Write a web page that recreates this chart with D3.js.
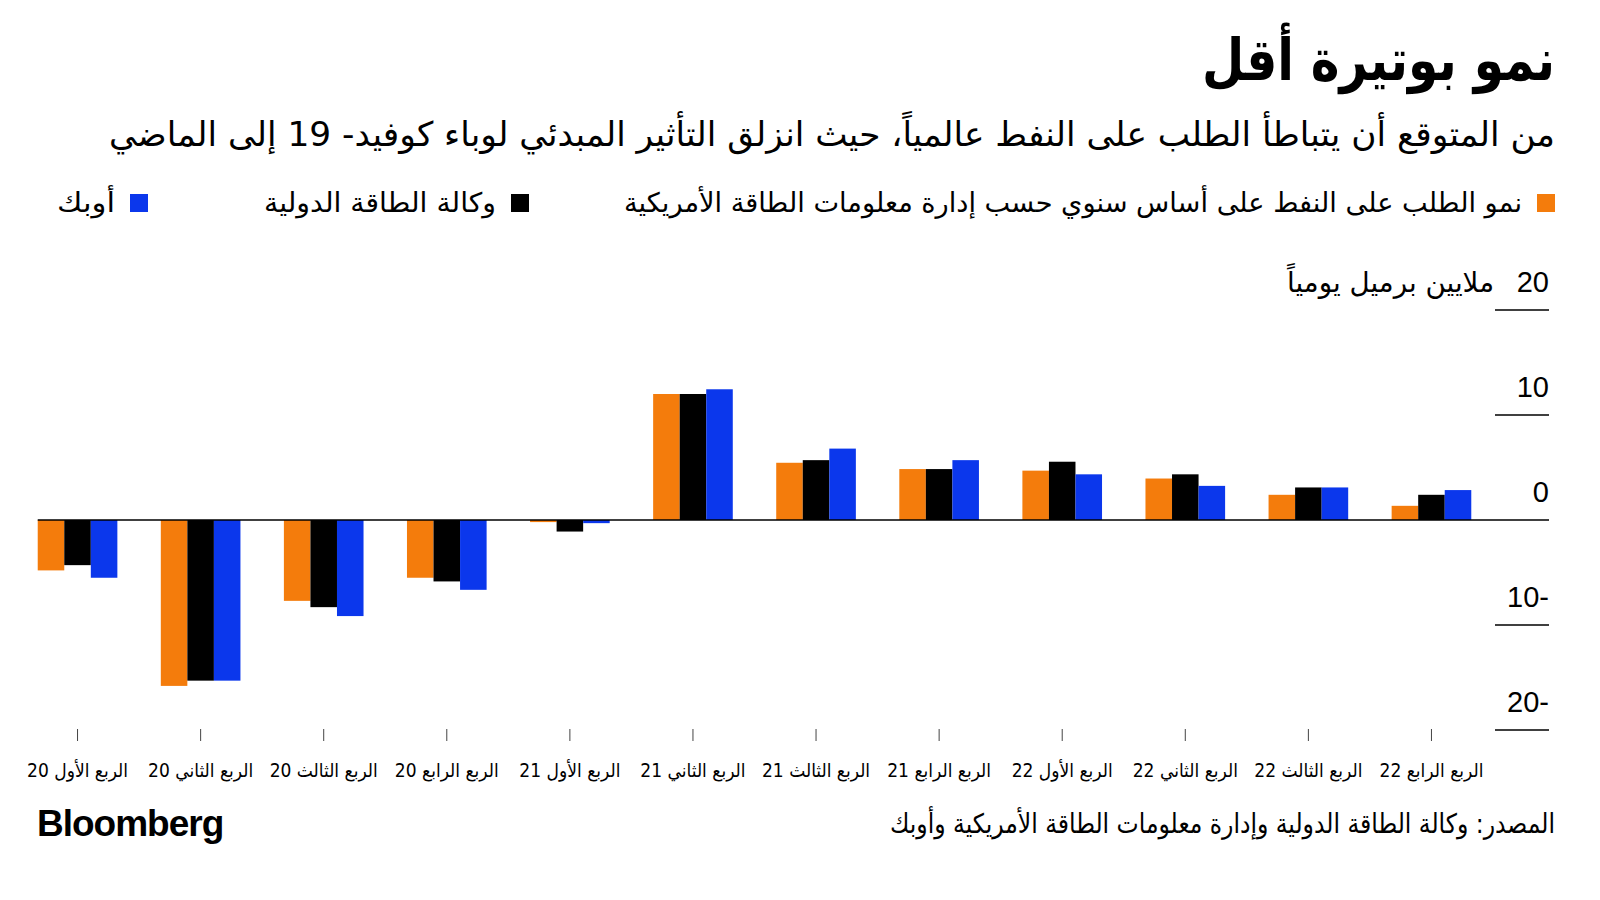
<!DOCTYPE html>
<html><head><meta charset="utf-8">
<script src="https://cdn.jsdelivr.net/npm/d3@7"></script>
<style>
html,body{margin:0;padding:0;background:#fff;}
svg{display:block;}
.ar{font-family:"DejaVu Sans Condensed","DejaVu Sans",sans-serif;font-stretch:condensed;}
.num{font-family:"Liberation Sans",Arial,sans-serif;}
</style></head>
<body>
<svg id="chart" width="1600" height="900"></svg>
<script>
const categories = ["الربع الأول 20","الربع الثاني 20","الربع الثالث 20","الربع الرابع 20","الربع الأول 21","الربع الثاني 21","الربع الثالث 21","الربع الرابع 21","الربع الأول 22","الربع الثاني 22","الربع الثالث 22","الربع الرابع 22"];
const eiaValues  = [-4.8,-15.8,-7.7,-5.5,-0.2,12.0,5.45,4.85,4.7,3.95,2.4,1.35];
const ieaValues  = [-4.3,-15.3,-8.3,-5.85,-1.1,12.0,5.7,4.85,5.55,4.35,3.1,2.4];
const opecValues = [-5.5,-15.3,-9.15,-6.65,-0.3,12.45,6.8,5.7,4.35,3.25,3.1,2.85];
const seriesNames = ["نمو الطلب على النفط على أساس سنوي حسب إدارة معلومات الطاقة الأمريكية","وكالة الطاقة الدولية","أوبك"];
const seriesColors = ["#f47c0c","#000000","#0b37ec"];
const yTicks = [20,10,0,-10,-20];
const title = "نمو بوتيرة أقل";
const subtitle = "من المتوقع أن يتباطأ الطلب على النفط عالمياً، حيث انزلق التأثير المبدئي لوباء كوفيد- 19 إلى الماضي";
const unitLabel = "ملايين برميل يومياً";
const source = "المصدر: وكالة الطاقة الدولية وإدارة معلومات الطاقة الأمريكية وأوبك";

const svg = d3.select("#chart");
const seriesData = [eiaValues, ieaValues, opecValues];
const keys = [0,1,2];

const x = d3.scaleBand().domain(categories).range([16,1493]).paddingInner(0.353).paddingOuter(0.1765);
const xs = d3.scaleBand().domain(keys).range([0, x.bandwidth()]);
const y = d3.scaleLinear().domain([-20,20]).range([730,310]);

function arText(sel, xPos, yPos, size, str, len){
  const t = sel.append("text").attr("class","ar").attr("x",xPos).attr("y",yPos).attr("direction","rtl").attr("text-anchor","start")
    .attr("font-size",size).text(str);
  if(len) t.attr("textLength",len).attr("lengthAdjust","spacingAndGlyphs");
  return t;
}

// Title etc.
arText(svg,1555,80,58,title,353).attr("font-weight","bold");
arText(svg,1555,146,34,subtitle,1446);

// Legend
const legendRight = [1555,529,148];
const legendLen = [898,232,58];
const legend = svg.append("g");
keys.forEach(k=>{
  legend.append("rect").attr("x",legendRight[k]-18).attr("y",194).attr("width",18).attr("height",18).attr("fill",seriesColors[k]);
  arText(legend,legendRight[k]-33,212,27,seriesNames[k],legendLen[k]);
});

// y gridlines & labels
const yg = svg.append("g");
yTicks.forEach(t=>{
  if(t!==0) yg.append("line").attr("x1",1495).attr("x2",1549).attr("y1",y(t)).attr("y2",y(t)).attr("stroke","#000").attr("stroke-width",1.5);
  yg.append("text").attr("class","num").attr("x",1549).attr("y",y(t)-18).attr("direction","rtl").attr("text-anchor","start")
    .attr("font-size",29).text(String(t));
});
arText(svg,1494,292,28,unitLabel,207);

// bars
const groups = svg.append("g").selectAll("g").data(categories).join("g")
  .attr("transform",d=>`translate(${x(d)},0)`);
groups.selectAll("rect").data((d,i)=>keys.map(k=>({k,v:seriesData[k][i]}))).join("rect")
  .attr("x",d=>xs(d.k)).attr("width",xs.bandwidth())
  .attr("y",d=>Math.min(y(d.v),y(0))).attr("height",d=>Math.abs(y(d.v)-y(0)))
  .attr("fill",d=>seriesColors[d.k]);

// zero line
svg.append("line").attr("x1",x(categories[0])).attr("x2",1549).attr("y1",y(0)).attr("y2",y(0)).attr("stroke","#000").attr("stroke-width",1.5);

// x axis
const xAxis = d3.axisBottom(x).tickSize(12).tickSizeOuter(0).tickPadding(23);
const ax = svg.append("g").attr("transform","translate(0,729)").call(xAxis);
ax.select(".domain").remove();
ax.selectAll(".tick line").attr("stroke","#444").attr("stroke-width",1);
ax.selectAll(".tick text").attr("class","ar").attr("font-size",19).attr("fill","#000").attr("direction","rtl").attr("text-anchor","middle")
  .attr("font-family",null);

// footer
svg.append("text").attr("class","num").attr("x",37).attr("y",836).attr("font-size",37).attr("font-weight","bold").attr("letter-spacing",-1).text("Bloomberg");
arText(svg,1555,833,27,source,665);
</script>
</body></html>
